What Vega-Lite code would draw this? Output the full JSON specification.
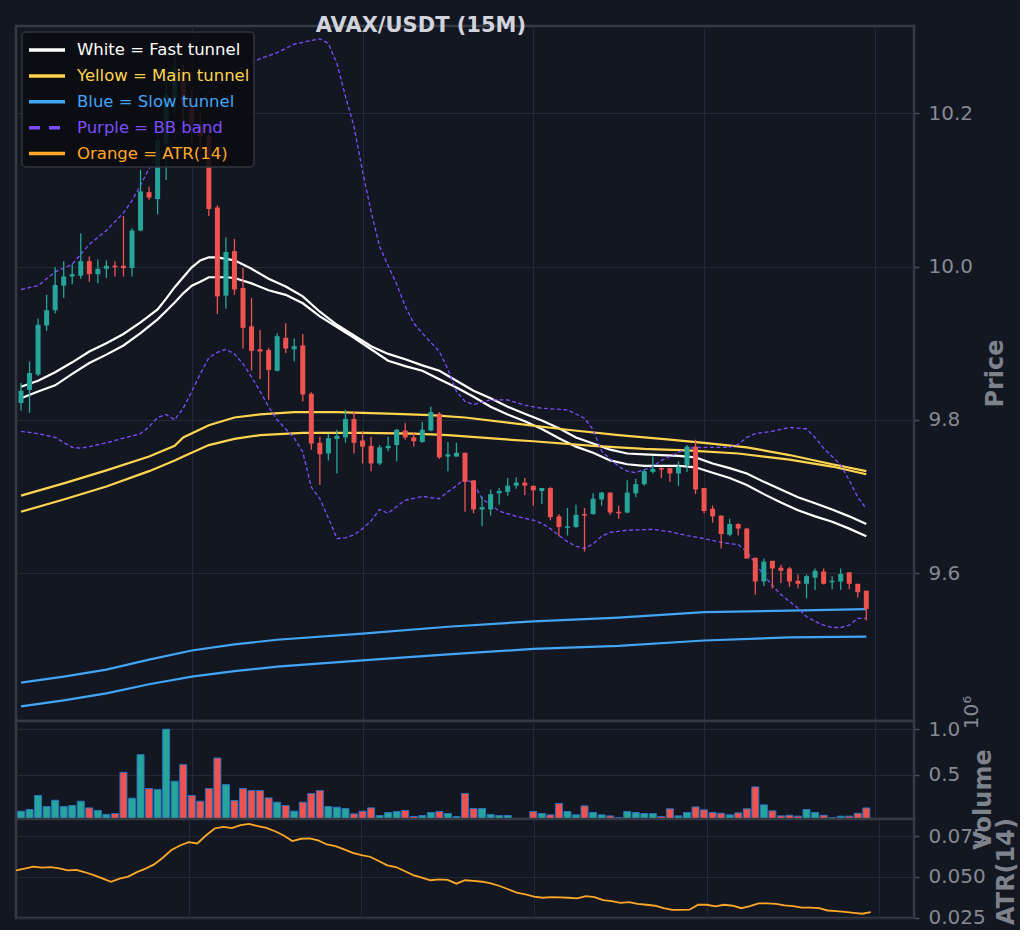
{
  "$schema": "https://vega.github.io/schema/vega-lite/v6.json",
  "background": "#131722",
  "padding": {"left": 14, "top": 14, "right": 0, "bottom": 0},
  "bounds": "flush",
  "title": {
    "text": "AVAX/USDT (15M)",
    "anchor": "start",
    "dx": 301,
    "offset": -11,
    "fontSize": 21,
    "fontWeight": "bold",
    "color": "#d1d4dc"
  },
  "spacing": 0,
  "datasets": {
    "candles": [
      {"i": 0, "open": 9.822, "high": 9.848, "low": 9.812, "close": 9.838, "volume": 105000, "atr": 0.0541},
      {"i": 1, "open": 9.839, "high": 9.876, "low": 9.809, "close": 9.861, "volume": 124000, "atr": 0.0551},
      {"i": 2, "open": 9.859, "high": 9.932, "low": 9.857, "close": 9.924, "volume": 276000, "atr": 0.0563},
      {"i": 3, "open": 9.923, "high": 9.963, "low": 9.916, "close": 9.943, "volume": 156000, "atr": 0.0557},
      {"i": 4, "open": 9.943, "high": 9.999, "low": 9.939, "close": 9.976, "volume": 225000, "atr": 0.056},
      {"i": 5, "open": 9.975, "high": 10.007, "low": 9.959, "close": 9.987, "volume": 156000, "atr": 0.0553},
      {"i": 6, "open": 9.987, "high": 10.003, "low": 9.977, "close": 9.99, "volume": 167000, "atr": 0.0541},
      {"i": 7, "open": 9.988, "high": 10.043, "low": 9.984, "close": 10.007, "volume": 214000, "atr": 0.0543},
      {"i": 8, "open": 10.007, "high": 10.013, "low": 9.98, "close": 9.99, "volume": 141000, "atr": 0.0529},
      {"i": 9, "open": 9.99, "high": 10.009, "low": 9.978, "close": 9.997, "volume": 113000, "atr": 0.0512},
      {"i": 10, "open": 9.997, "high": 10.008, "low": 9.985, "close": 10.001, "volume": 70000, "atr": 0.0492},
      {"i": 11, "open": 10.001, "high": 10.007, "low": 9.987, "close": 9.999, "volume": 80000, "atr": 0.047},
      {"i": 12, "open": 10.001, "high": 10.066, "low": 9.987, "close": 9.998, "volume": 529000, "atr": 0.049},
      {"i": 13, "open": 9.998, "high": 10.05, "low": 9.987, "close": 10.047, "volume": 247000, "atr": 0.0502},
      {"i": 14, "open": 10.047, "high": 10.126, "low": 10.046, "close": 10.098, "volume": 722000, "atr": 0.053},
      {"i": 15, "open": 10.097, "high": 10.104, "low": 10.087, "close": 10.09, "volume": 352000, "atr": 0.0551},
      {"i": 16, "open": 10.088, "high": 10.175, "low": 10.068, "close": 10.165, "volume": 341000, "atr": 0.0577},
      {"i": 17, "open": 10.16, "high": 10.245, "low": 10.113, "close": 10.225, "volume": 1000000, "atr": 0.0618},
      {"i": 18, "open": 10.22, "high": 10.28, "low": 10.2, "close": 10.258, "volume": 432000, "atr": 0.0665},
      {"i": 19, "open": 10.255, "high": 10.265, "low": 10.19, "close": 10.21, "volume": 613000, "atr": 0.0693},
      {"i": 20, "open": 10.21, "high": 10.23, "low": 10.16, "close": 10.185, "volume": 276000, "atr": 0.0713},
      {"i": 21, "open": 10.185, "high": 10.2, "low": 10.15, "close": 10.17, "volume": 214000, "atr": 0.0705},
      {"i": 22, "open": 10.17, "high": 10.18, "low": 10.066, "close": 10.075, "volume": 352000, "atr": 0.0754},
      {"i": 23, "open": 10.077, "high": 10.08, "low": 9.938, "close": 9.961, "volume": 685000, "atr": 0.0797},
      {"i": 24, "open": 9.962, "high": 10.038, "low": 9.945, "close": 10.019, "volume": 395000, "atr": 0.0807},
      {"i": 25, "open": 10.02, "high": 10.036, "low": 9.963, "close": 9.97, "volume": 221000, "atr": 0.0799},
      {"i": 26, "open": 9.972, "high": 9.998, "low": 9.893, "close": 9.92, "volume": 352000, "atr": 0.0817},
      {"i": 27, "open": 9.922, "high": 9.959, "low": 9.864, "close": 9.89, "volume": 330000, "atr": 0.0825},
      {"i": 28, "open": 9.892, "high": 9.917, "low": 9.853, "close": 9.889, "volume": 330000, "atr": 0.0811},
      {"i": 29, "open": 9.891, "high": 9.894, "low": 9.826, "close": 9.865, "volume": 250000, "atr": 0.0801},
      {"i": 30, "open": 9.864, "high": 9.913, "low": 9.863, "close": 9.909, "volume": 203000, "atr": 0.078},
      {"i": 31, "open": 9.907, "high": 9.926, "low": 9.887, "close": 9.893, "volume": 167000, "atr": 0.0754},
      {"i": 32, "open": 9.892, "high": 9.906, "low": 9.876, "close": 9.896, "volume": 105000, "atr": 0.072},
      {"i": 33, "open": 9.897, "high": 9.912, "low": 9.824, "close": 9.833, "volume": 203000, "atr": 0.0734},
      {"i": 34, "open": 9.834, "high": 9.836, "low": 9.761, "close": 9.769, "volume": 297000, "atr": 0.0736},
      {"i": 35, "open": 9.77, "high": 9.778, "low": 9.715, "close": 9.755, "volume": 330000, "atr": 0.0724},
      {"i": 36, "open": 9.756, "high": 9.782, "low": 9.747, "close": 9.776, "volume": 156000, "atr": 0.0699},
      {"i": 37, "open": 9.775, "high": 9.787, "low": 9.73, "close": 9.779, "volume": 149000, "atr": 0.0689},
      {"i": 38, "open": 9.777, "high": 9.813, "low": 9.77, "close": 9.801, "volume": 134000, "atr": 0.0669},
      {"i": 39, "open": 9.801, "high": 9.811, "low": 9.756, "close": 9.77, "volume": 76000, "atr": 0.0648},
      {"i": 40, "open": 9.773, "high": 9.785, "low": 9.743, "close": 9.765, "volume": 105000, "atr": 0.0634},
      {"i": 41, "open": 9.766, "high": 9.778, "low": 9.733, "close": 9.743, "volume": 141000, "atr": 0.0624},
      {"i": 42, "open": 9.743, "high": 9.767, "low": 9.741, "close": 9.764, "volume": 58000, "atr": 0.0598},
      {"i": 43, "open": 9.763, "high": 9.778, "low": 9.759, "close": 9.766, "volume": 91000, "atr": 0.0571},
      {"i": 44, "open": 9.767, "high": 9.788, "low": 9.746, "close": 9.787, "volume": 102000, "atr": 0.0561},
      {"i": 45, "open": 9.786, "high": 9.796, "low": 9.774, "close": 9.777, "volume": 113000, "atr": 0.0537},
      {"i": 46, "open": 9.777, "high": 9.784, "low": 9.765, "close": 9.772, "volume": 47000, "atr": 0.0512},
      {"i": 47, "open": 9.771, "high": 9.797, "low": 9.77, "close": 9.787, "volume": 58000, "atr": 0.0496},
      {"i": 48, "open": 9.786, "high": 9.817, "low": 9.785, "close": 9.81, "volume": 91000, "atr": 0.048},
      {"i": 49, "open": 9.808, "high": 9.81, "low": 9.749, "close": 9.751, "volume": 102000, "atr": 0.0486},
      {"i": 50, "open": 9.752, "high": 9.771, "low": 9.733, "close": 9.755, "volume": 80000, "atr": 0.0482},
      {"i": 51, "open": 9.752, "high": 9.77, "low": 9.752, "close": 9.757, "volume": 47000, "atr": 0.0459},
      {"i": 52, "open": 9.757, "high": 9.757, "low": 9.68, "close": 9.719, "volume": 297000, "atr": 0.048},
      {"i": 53, "open": 9.721, "high": 9.721, "low": 9.678, "close": 9.683, "volume": 134000, "atr": 0.0476},
      {"i": 54, "open": 9.683, "high": 9.7, "low": 9.661, "close": 9.686, "volume": 134000, "atr": 0.0471},
      {"i": 55, "open": 9.683, "high": 9.709, "low": 9.675, "close": 9.703, "volume": 70000, "atr": 0.0461},
      {"i": 56, "open": 9.704, "high": 9.711, "low": 9.689, "close": 9.707, "volume": 58000, "atr": 0.0445},
      {"i": 57, "open": 9.706, "high": 9.724, "low": 9.701, "close": 9.714, "volume": 58000, "atr": 0.0425},
      {"i": 58, "open": 9.714, "high": 9.725, "low": 9.71, "close": 9.718, "volume": 20000, "atr": 0.0404},
      {"i": 59, "open": 9.718, "high": 9.724, "low": 9.702, "close": 9.714, "volume": 15000, "atr": 0.0393},
      {"i": 60, "open": 9.714, "high": 9.714, "low": 9.688, "close": 9.708, "volume": 102000, "atr": 0.038},
      {"i": 61, "open": 9.707, "high": 9.711, "low": 9.69, "close": 9.711, "volume": 80000, "atr": 0.0373},
      {"i": 62, "open": 9.711, "high": 9.712, "low": 9.669, "close": 9.673, "volume": 65000, "atr": 0.0377},
      {"i": 63, "open": 9.674, "high": 9.677, "low": 9.648, "close": 9.66, "volume": 189000, "atr": 0.0375},
      {"i": 64, "open": 9.659, "high": 9.685, "low": 9.649, "close": 9.661, "volume": 102000, "atr": 0.0373},
      {"i": 65, "open": 9.66, "high": 9.689, "low": 9.659, "close": 9.676, "volume": 65000, "atr": 0.0369},
      {"i": 66, "open": 9.677, "high": 9.685, "low": 9.628, "close": 9.675, "volume": 163000, "atr": 0.0383},
      {"i": 67, "open": 9.677, "high": 9.704, "low": 9.676, "close": 9.697, "volume": 91000, "atr": 0.0377},
      {"i": 68, "open": 9.696, "high": 9.706, "low": 9.688, "close": 9.705, "volume": 65000, "atr": 0.0358},
      {"i": 69, "open": 9.705, "high": 9.705, "low": 9.676, "close": 9.679, "volume": 54000, "atr": 0.0352},
      {"i": 70, "open": 9.68, "high": 9.688, "low": 9.671, "close": 9.678, "volume": 36000, "atr": 0.0342},
      {"i": 71, "open": 9.679, "high": 9.721, "low": 9.678, "close": 9.705, "volume": 102000, "atr": 0.0346},
      {"i": 72, "open": 9.704, "high": 9.723, "low": 9.699, "close": 9.716, "volume": 91000, "atr": 0.0336},
      {"i": 73, "open": 9.716, "high": 9.735, "low": 9.714, "close": 9.733, "volume": 80000, "atr": 0.033},
      {"i": 74, "open": 9.732, "high": 9.752, "low": 9.73, "close": 9.736, "volume": 80000, "atr": 0.0324},
      {"i": 75, "open": 9.737, "high": 9.738, "low": 9.724, "close": 9.735, "volume": 47000, "atr": 0.0309},
      {"i": 76, "open": 9.737, "high": 9.737, "low": 9.719, "close": 9.73, "volume": 131000, "atr": 0.0299},
      {"i": 77, "open": 9.73, "high": 9.746, "low": 9.714, "close": 9.739, "volume": 54000, "atr": 0.0299},
      {"i": 78, "open": 9.741, "high": 9.767, "low": 9.732, "close": 9.765, "volume": 91000, "atr": 0.03},
      {"i": 79, "open": 9.765, "high": 9.774, "low": 9.703, "close": 9.709, "volume": 152000, "atr": 0.033},
      {"i": 80, "open": 9.711, "high": 9.711, "low": 9.678, "close": 9.681, "volume": 120000, "atr": 0.033},
      {"i": 81, "open": 9.684, "high": 9.688, "low": 9.666, "close": 9.674, "volume": 91000, "atr": 0.032},
      {"i": 82, "open": 9.675, "high": 9.675, "low": 9.632, "close": 9.651, "volume": 83000, "atr": 0.033},
      {"i": 83, "open": 9.65, "high": 9.671, "low": 9.648, "close": 9.664, "volume": 65000, "atr": 0.0324},
      {"i": 84, "open": 9.664, "high": 9.665, "low": 9.649, "close": 9.658, "volume": 87000, "atr": 0.0309},
      {"i": 85, "open": 9.658, "high": 9.659, "low": 9.619, "close": 9.619, "volume": 131000, "atr": 0.0322},
      {"i": 86, "open": 9.62, "high": 9.62, "low": 9.572, "close": 9.589, "volume": 370000, "atr": 0.0338},
      {"i": 87, "open": 9.589, "high": 9.619, "low": 9.583, "close": 9.615, "volume": 174000, "atr": 0.0338},
      {"i": 88, "open": 9.616, "high": 9.616, "low": 9.58, "close": 9.606, "volume": 109000, "atr": 0.0336},
      {"i": 89, "open": 9.607, "high": 9.611, "low": 9.587, "close": 9.603, "volume": 54000, "atr": 0.0326},
      {"i": 90, "open": 9.606, "high": 9.608, "low": 9.582, "close": 9.589, "volume": 61000, "atr": 0.0322},
      {"i": 91, "open": 9.59, "high": 9.598, "low": 9.58, "close": 9.586, "volume": 51000, "atr": 0.0313},
      {"i": 92, "open": 9.586, "high": 9.598, "low": 9.567, "close": 9.596, "volume": 124000, "atr": 0.0313},
      {"i": 93, "open": 9.594, "high": 9.606, "low": 9.578, "close": 9.603, "volume": 91000, "atr": 0.0309},
      {"i": 94, "open": 9.602, "high": 9.606, "low": 9.585, "close": 9.586, "volume": 61000, "atr": 0.0295},
      {"i": 95, "open": 9.588, "high": 9.596, "low": 9.579, "close": 9.59, "volume": 36000, "atr": 0.0291},
      {"i": 96, "open": 9.589, "high": 9.606, "low": 9.578, "close": 9.599, "volume": 51000, "atr": 0.0287},
      {"i": 97, "open": 9.601, "high": 9.601, "low": 9.579, "close": 9.586, "volume": 51000, "atr": 0.0281},
      {"i": 98, "open": 9.586, "high": 9.586, "low": 9.568, "close": 9.575, "volume": 83000, "atr": 0.0275},
      {"i": 99, "open": 9.577, "high": 9.577, "low": 9.538, "close": 9.553, "volume": 141000, "atr": 0.0285}
    ],
    "lines": [
      {"i": 0, "series": "White = Fast tunnel", "band": "upper", "price": 9.843},
      {"i": 2, "series": "White = Fast tunnel", "band": "upper", "price": 9.851},
      {"i": 4, "series": "White = Fast tunnel", "band": "upper", "price": 9.862},
      {"i": 6, "series": "White = Fast tunnel", "band": "upper", "price": 9.875},
      {"i": 8, "series": "White = Fast tunnel", "band": "upper", "price": 9.889},
      {"i": 10, "series": "White = Fast tunnel", "band": "upper", "price": 9.9},
      {"i": 12, "series": "White = Fast tunnel", "band": "upper", "price": 9.912},
      {"i": 14, "series": "White = Fast tunnel", "band": "upper", "price": 9.927},
      {"i": 16, "series": "White = Fast tunnel", "band": "upper", "price": 9.944},
      {"i": 17, "series": "White = Fast tunnel", "band": "upper", "price": 9.958},
      {"i": 18, "series": "White = Fast tunnel", "band": "upper", "price": 9.973},
      {"i": 19, "series": "White = Fast tunnel", "band": "upper", "price": 9.986},
      {"i": 20, "series": "White = Fast tunnel", "band": "upper", "price": 9.999},
      {"i": 21, "series": "White = Fast tunnel", "band": "upper", "price": 10.008},
      {"i": 22, "series": "White = Fast tunnel", "band": "upper", "price": 10.012},
      {"i": 23, "series": "White = Fast tunnel", "band": "upper", "price": 10.012},
      {"i": 25, "series": "White = Fast tunnel", "band": "upper", "price": 10.008},
      {"i": 27, "series": "White = Fast tunnel", "band": "upper", "price": 9.997},
      {"i": 29, "series": "White = Fast tunnel", "band": "upper", "price": 9.984},
      {"i": 31, "series": "White = Fast tunnel", "band": "upper", "price": 9.974},
      {"i": 33, "series": "White = Fast tunnel", "band": "upper", "price": 9.961},
      {"i": 35, "series": "White = Fast tunnel", "band": "upper", "price": 9.941},
      {"i": 37, "series": "White = Fast tunnel", "band": "upper", "price": 9.924},
      {"i": 39, "series": "White = Fast tunnel", "band": "upper", "price": 9.91},
      {"i": 41, "series": "White = Fast tunnel", "band": "upper", "price": 9.896},
      {"i": 43, "series": "White = Fast tunnel", "band": "upper", "price": 9.886},
      {"i": 45, "series": "White = Fast tunnel", "band": "upper", "price": 9.879},
      {"i": 47, "series": "White = Fast tunnel", "band": "upper", "price": 9.871},
      {"i": 49, "series": "White = Fast tunnel", "band": "upper", "price": 9.864},
      {"i": 51, "series": "White = Fast tunnel", "band": "upper", "price": 9.851},
      {"i": 53, "series": "White = Fast tunnel", "band": "upper", "price": 9.838},
      {"i": 55, "series": "White = Fast tunnel", "band": "upper", "price": 9.828},
      {"i": 57, "series": "White = Fast tunnel", "band": "upper", "price": 9.817},
      {"i": 59, "series": "White = Fast tunnel", "band": "upper", "price": 9.808},
      {"i": 61, "series": "White = Fast tunnel", "band": "upper", "price": 9.799},
      {"i": 63, "series": "White = Fast tunnel", "band": "upper", "price": 9.789},
      {"i": 65, "series": "White = Fast tunnel", "band": "upper", "price": 9.777},
      {"i": 67, "series": "White = Fast tunnel", "band": "upper", "price": 9.769},
      {"i": 69, "series": "White = Fast tunnel", "band": "upper", "price": 9.761},
      {"i": 71, "series": "White = Fast tunnel", "band": "upper", "price": 9.756},
      {"i": 73, "series": "White = Fast tunnel", "band": "upper", "price": 9.755},
      {"i": 75, "series": "White = Fast tunnel", "band": "upper", "price": 9.754},
      {"i": 77, "series": "White = Fast tunnel", "band": "upper", "price": 9.753},
      {"i": 79, "series": "White = Fast tunnel", "band": "upper", "price": 9.751},
      {"i": 81, "series": "White = Fast tunnel", "band": "upper", "price": 9.743},
      {"i": 83, "series": "White = Fast tunnel", "band": "upper", "price": 9.737},
      {"i": 85, "series": "White = Fast tunnel", "band": "upper", "price": 9.73},
      {"i": 87, "series": "White = Fast tunnel", "band": "upper", "price": 9.719},
      {"i": 89, "series": "White = Fast tunnel", "band": "upper", "price": 9.709},
      {"i": 91, "series": "White = Fast tunnel", "band": "upper", "price": 9.699},
      {"i": 93, "series": "White = Fast tunnel", "band": "upper", "price": 9.691},
      {"i": 95, "series": "White = Fast tunnel", "band": "upper", "price": 9.683},
      {"i": 97, "series": "White = Fast tunnel", "band": "upper", "price": 9.674},
      {"i": 99, "series": "White = Fast tunnel", "band": "upper", "price": 9.664},
      {"i": 0, "series": "White = Fast tunnel", "band": "lower", "price": 9.828},
      {"i": 2, "series": "White = Fast tunnel", "band": "lower", "price": 9.837},
      {"i": 4, "series": "White = Fast tunnel", "band": "lower", "price": 9.845},
      {"i": 6, "series": "White = Fast tunnel", "band": "lower", "price": 9.86},
      {"i": 8, "series": "White = Fast tunnel", "band": "lower", "price": 9.874},
      {"i": 10, "series": "White = Fast tunnel", "band": "lower", "price": 9.885},
      {"i": 12, "series": "White = Fast tunnel", "band": "lower", "price": 9.897},
      {"i": 14, "series": "White = Fast tunnel", "band": "lower", "price": 9.913},
      {"i": 16, "series": "White = Fast tunnel", "band": "lower", "price": 9.931},
      {"i": 17, "series": "White = Fast tunnel", "band": "lower", "price": 9.942},
      {"i": 18, "series": "White = Fast tunnel", "band": "lower", "price": 9.953},
      {"i": 19, "series": "White = Fast tunnel", "band": "lower", "price": 9.965},
      {"i": 20, "series": "White = Fast tunnel", "band": "lower", "price": 9.975},
      {"i": 21, "series": "White = Fast tunnel", "band": "lower", "price": 9.98},
      {"i": 22, "series": "White = Fast tunnel", "band": "lower", "price": 9.986},
      {"i": 24, "series": "White = Fast tunnel", "band": "lower", "price": 9.986},
      {"i": 25, "series": "White = Fast tunnel", "band": "lower", "price": 9.985},
      {"i": 27, "series": "White = Fast tunnel", "band": "lower", "price": 9.978},
      {"i": 29, "series": "White = Fast tunnel", "band": "lower", "price": 9.969},
      {"i": 31, "series": "White = Fast tunnel", "band": "lower", "price": 9.963},
      {"i": 33, "series": "White = Fast tunnel", "band": "lower", "price": 9.952},
      {"i": 35, "series": "White = Fast tunnel", "band": "lower", "price": 9.935},
      {"i": 37, "series": "White = Fast tunnel", "band": "lower", "price": 9.921},
      {"i": 39, "series": "White = Fast tunnel", "band": "lower", "price": 9.907},
      {"i": 41, "series": "White = Fast tunnel", "band": "lower", "price": 9.892},
      {"i": 43, "series": "White = Fast tunnel", "band": "lower", "price": 9.877},
      {"i": 45, "series": "White = Fast tunnel", "band": "lower", "price": 9.87},
      {"i": 47, "series": "White = Fast tunnel", "band": "lower", "price": 9.864},
      {"i": 49, "series": "White = Fast tunnel", "band": "lower", "price": 9.853},
      {"i": 51, "series": "White = Fast tunnel", "band": "lower", "price": 9.842},
      {"i": 53, "series": "White = Fast tunnel", "band": "lower", "price": 9.83},
      {"i": 55, "series": "White = Fast tunnel", "band": "lower", "price": 9.817},
      {"i": 57, "series": "White = Fast tunnel", "band": "lower", "price": 9.807},
      {"i": 59, "series": "White = Fast tunnel", "band": "lower", "price": 9.798},
      {"i": 61, "series": "White = Fast tunnel", "band": "lower", "price": 9.788},
      {"i": 63, "series": "White = Fast tunnel", "band": "lower", "price": 9.776},
      {"i": 65, "series": "White = Fast tunnel", "band": "lower", "price": 9.765},
      {"i": 67, "series": "White = Fast tunnel", "band": "lower", "price": 9.757},
      {"i": 69, "series": "White = Fast tunnel", "band": "lower", "price": 9.747},
      {"i": 71, "series": "White = Fast tunnel", "band": "lower", "price": 9.742},
      {"i": 73, "series": "White = Fast tunnel", "band": "lower", "price": 9.74},
      {"i": 75, "series": "White = Fast tunnel", "band": "lower", "price": 9.74},
      {"i": 77, "series": "White = Fast tunnel", "band": "lower", "price": 9.74},
      {"i": 79, "series": "White = Fast tunnel", "band": "lower", "price": 9.738},
      {"i": 81, "series": "White = Fast tunnel", "band": "lower", "price": 9.731},
      {"i": 83, "series": "White = Fast tunnel", "band": "lower", "price": 9.724},
      {"i": 85, "series": "White = Fast tunnel", "band": "lower", "price": 9.715},
      {"i": 87, "series": "White = Fast tunnel", "band": "lower", "price": 9.703},
      {"i": 89, "series": "White = Fast tunnel", "band": "lower", "price": 9.692},
      {"i": 91, "series": "White = Fast tunnel", "band": "lower", "price": 9.682},
      {"i": 93, "series": "White = Fast tunnel", "band": "lower", "price": 9.674},
      {"i": 95, "series": "White = Fast tunnel", "band": "lower", "price": 9.667},
      {"i": 97, "series": "White = Fast tunnel", "band": "lower", "price": 9.658},
      {"i": 99, "series": "White = Fast tunnel", "band": "lower", "price": 9.648},
      {"i": 0, "series": "Yellow = Main tunnel", "band": "upper", "price": 9.701},
      {"i": 5, "series": "Yellow = Main tunnel", "band": "upper", "price": 9.717},
      {"i": 10, "series": "Yellow = Main tunnel", "band": "upper", "price": 9.734},
      {"i": 15, "series": "Yellow = Main tunnel", "band": "upper", "price": 9.752},
      {"i": 18, "series": "Yellow = Main tunnel", "band": "upper", "price": 9.766},
      {"i": 19, "series": "Yellow = Main tunnel", "band": "upper", "price": 9.777},
      {"i": 22, "series": "Yellow = Main tunnel", "band": "upper", "price": 9.793},
      {"i": 25, "series": "Yellow = Main tunnel", "band": "upper", "price": 9.803},
      {"i": 28, "series": "Yellow = Main tunnel", "band": "upper", "price": 9.807},
      {"i": 32, "series": "Yellow = Main tunnel", "band": "upper", "price": 9.81},
      {"i": 37, "series": "Yellow = Main tunnel", "band": "upper", "price": 9.81},
      {"i": 43, "series": "Yellow = Main tunnel", "band": "upper", "price": 9.808},
      {"i": 48, "series": "Yellow = Main tunnel", "band": "upper", "price": 9.806},
      {"i": 52, "series": "Yellow = Main tunnel", "band": "upper", "price": 9.803},
      {"i": 58, "series": "Yellow = Main tunnel", "band": "upper", "price": 9.795},
      {"i": 64, "series": "Yellow = Main tunnel", "band": "upper", "price": 9.787},
      {"i": 70, "series": "Yellow = Main tunnel", "band": "upper", "price": 9.78},
      {"i": 76, "series": "Yellow = Main tunnel", "band": "upper", "price": 9.774},
      {"i": 80, "series": "Yellow = Main tunnel", "band": "upper", "price": 9.77},
      {"i": 85, "series": "Yellow = Main tunnel", "band": "upper", "price": 9.764},
      {"i": 90, "series": "Yellow = Main tunnel", "band": "upper", "price": 9.754},
      {"i": 95, "series": "Yellow = Main tunnel", "band": "upper", "price": 9.742},
      {"i": 99, "series": "Yellow = Main tunnel", "band": "upper", "price": 9.733},
      {"i": 0, "series": "Yellow = Main tunnel", "band": "lower", "price": 9.68},
      {"i": 5, "series": "Yellow = Main tunnel", "band": "lower", "price": 9.696},
      {"i": 10, "series": "Yellow = Main tunnel", "band": "lower", "price": 9.713},
      {"i": 15, "series": "Yellow = Main tunnel", "band": "lower", "price": 9.733},
      {"i": 18, "series": "Yellow = Main tunnel", "band": "lower", "price": 9.747},
      {"i": 19, "series": "Yellow = Main tunnel", "band": "lower", "price": 9.752},
      {"i": 22, "series": "Yellow = Main tunnel", "band": "lower", "price": 9.767},
      {"i": 25, "series": "Yellow = Main tunnel", "band": "lower", "price": 9.775},
      {"i": 28, "series": "Yellow = Main tunnel", "band": "lower", "price": 9.78},
      {"i": 33, "series": "Yellow = Main tunnel", "band": "lower", "price": 9.783},
      {"i": 40, "series": "Yellow = Main tunnel", "band": "lower", "price": 9.783},
      {"i": 46, "series": "Yellow = Main tunnel", "band": "lower", "price": 9.782},
      {"i": 50, "series": "Yellow = Main tunnel", "band": "lower", "price": 9.78},
      {"i": 56, "series": "Yellow = Main tunnel", "band": "lower", "price": 9.775},
      {"i": 60, "series": "Yellow = Main tunnel", "band": "lower", "price": 9.772},
      {"i": 67, "series": "Yellow = Main tunnel", "band": "lower", "price": 9.766},
      {"i": 73, "series": "Yellow = Main tunnel", "band": "lower", "price": 9.762},
      {"i": 78, "series": "Yellow = Main tunnel", "band": "lower", "price": 9.76},
      {"i": 84, "series": "Yellow = Main tunnel", "band": "lower", "price": 9.756},
      {"i": 90, "series": "Yellow = Main tunnel", "band": "lower", "price": 9.748},
      {"i": 95, "series": "Yellow = Main tunnel", "band": "lower", "price": 9.739},
      {"i": 99, "series": "Yellow = Main tunnel", "band": "lower", "price": 9.729},
      {"i": 0, "series": "Blue = Slow tunnel", "band": "upper", "price": 9.457},
      {"i": 5, "series": "Blue = Slow tunnel", "band": "upper", "price": 9.465},
      {"i": 10, "series": "Blue = Slow tunnel", "band": "upper", "price": 9.474},
      {"i": 15, "series": "Blue = Slow tunnel", "band": "upper", "price": 9.487},
      {"i": 20, "series": "Blue = Slow tunnel", "band": "upper", "price": 9.499},
      {"i": 25, "series": "Blue = Slow tunnel", "band": "upper", "price": 9.507},
      {"i": 30, "series": "Blue = Slow tunnel", "band": "upper", "price": 9.513},
      {"i": 40, "series": "Blue = Slow tunnel", "band": "upper", "price": 9.521},
      {"i": 50, "series": "Blue = Slow tunnel", "band": "upper", "price": 9.53},
      {"i": 60, "series": "Blue = Slow tunnel", "band": "upper", "price": 9.537},
      {"i": 70, "series": "Blue = Slow tunnel", "band": "upper", "price": 9.542},
      {"i": 80, "series": "Blue = Slow tunnel", "band": "upper", "price": 9.549},
      {"i": 90, "series": "Blue = Slow tunnel", "band": "upper", "price": 9.551},
      {"i": 99, "series": "Blue = Slow tunnel", "band": "upper", "price": 9.553},
      {"i": 0, "series": "Blue = Slow tunnel", "band": "lower", "price": 9.426},
      {"i": 5, "series": "Blue = Slow tunnel", "band": "lower", "price": 9.434},
      {"i": 10, "series": "Blue = Slow tunnel", "band": "lower", "price": 9.443},
      {"i": 15, "series": "Blue = Slow tunnel", "band": "lower", "price": 9.455},
      {"i": 20, "series": "Blue = Slow tunnel", "band": "lower", "price": 9.465},
      {"i": 25, "series": "Blue = Slow tunnel", "band": "lower", "price": 9.472},
      {"i": 30, "series": "Blue = Slow tunnel", "band": "lower", "price": 9.478},
      {"i": 40, "series": "Blue = Slow tunnel", "band": "lower", "price": 9.486},
      {"i": 50, "series": "Blue = Slow tunnel", "band": "lower", "price": 9.494},
      {"i": 60, "series": "Blue = Slow tunnel", "band": "lower", "price": 9.501},
      {"i": 70, "series": "Blue = Slow tunnel", "band": "lower", "price": 9.505},
      {"i": 80, "series": "Blue = Slow tunnel", "band": "lower", "price": 9.512},
      {"i": 90, "series": "Blue = Slow tunnel", "band": "lower", "price": 9.516},
      {"i": 99, "series": "Blue = Slow tunnel", "band": "lower", "price": 9.517},
      {"i": 0, "series": "Purple = BB band", "band": "upper", "price": 9.97},
      {"i": 2, "series": "Purple = BB band", "band": "upper", "price": 9.975},
      {"i": 4, "series": "Purple = BB band", "band": "upper", "price": 9.993},
      {"i": 6, "series": "Purple = BB band", "band": "upper", "price": 10.003},
      {"i": 8, "series": "Purple = BB band", "band": "upper", "price": 10.029},
      {"i": 10, "series": "Purple = BB band", "band": "upper", "price": 10.047},
      {"i": 12, "series": "Purple = BB band", "band": "upper", "price": 10.07},
      {"i": 13, "series": "Purple = BB band", "band": "upper", "price": 10.086},
      {"i": 14, "series": "Purple = BB band", "band": "upper", "price": 10.106},
      {"i": 15, "series": "Purple = BB band", "band": "upper", "price": 10.128},
      {"i": 16, "series": "Purple = BB band", "band": "upper", "price": 10.147},
      {"i": 17, "series": "Purple = BB band", "band": "upper", "price": 10.155},
      {"i": 18, "series": "Purple = BB band", "band": "upper", "price": 10.168},
      {"i": 20, "series": "Purple = BB band", "band": "upper", "price": 10.2},
      {"i": 22, "series": "Purple = BB band", "band": "upper", "price": 10.226},
      {"i": 24, "series": "Purple = BB band", "band": "upper", "price": 10.247},
      {"i": 26, "series": "Purple = BB band", "band": "upper", "price": 10.261},
      {"i": 28, "series": "Purple = BB band", "band": "upper", "price": 10.271},
      {"i": 30, "series": "Purple = BB band", "band": "upper", "price": 10.279},
      {"i": 32, "series": "Purple = BB band", "band": "upper", "price": 10.29},
      {"i": 34, "series": "Purple = BB band", "band": "upper", "price": 10.295},
      {"i": 35, "series": "Purple = BB band", "band": "upper", "price": 10.297},
      {"i": 36, "series": "Purple = BB band", "band": "upper", "price": 10.291},
      {"i": 37, "series": "Purple = BB band", "band": "upper", "price": 10.265},
      {"i": 38, "series": "Purple = BB band", "band": "upper", "price": 10.222},
      {"i": 39, "series": "Purple = BB band", "band": "upper", "price": 10.183},
      {"i": 40, "series": "Purple = BB band", "band": "upper", "price": 10.124},
      {"i": 41, "series": "Purple = BB band", "band": "upper", "price": 10.072},
      {"i": 42, "series": "Purple = BB band", "band": "upper", "price": 10.026},
      {"i": 43, "series": "Purple = BB band", "band": "upper", "price": 10.001},
      {"i": 44, "series": "Purple = BB band", "band": "upper", "price": 9.977},
      {"i": 45, "series": "Purple = BB band", "band": "upper", "price": 9.948},
      {"i": 46, "series": "Purple = BB band", "band": "upper", "price": 9.926},
      {"i": 47, "series": "Purple = BB band", "band": "upper", "price": 9.913},
      {"i": 48, "series": "Purple = BB band", "band": "upper", "price": 9.901},
      {"i": 49, "series": "Purple = BB band", "band": "upper", "price": 9.889},
      {"i": 50, "series": "Purple = BB band", "band": "upper", "price": 9.866},
      {"i": 51, "series": "Purple = BB band", "band": "upper", "price": 9.837},
      {"i": 52, "series": "Purple = BB band", "band": "upper", "price": 9.824},
      {"i": 53, "series": "Purple = BB band", "band": "upper", "price": 9.82},
      {"i": 55, "series": "Purple = BB band", "band": "upper", "price": 9.826},
      {"i": 57, "series": "Purple = BB band", "band": "upper", "price": 9.826},
      {"i": 59, "series": "Purple = BB band", "band": "upper", "price": 9.819},
      {"i": 61, "series": "Purple = BB band", "band": "upper", "price": 9.815},
      {"i": 64, "series": "Purple = BB band", "band": "upper", "price": 9.813},
      {"i": 66, "series": "Purple = BB band", "band": "upper", "price": 9.802},
      {"i": 67, "series": "Purple = BB band", "band": "upper", "price": 9.787},
      {"i": 68, "series": "Purple = BB band", "band": "upper", "price": 9.759},
      {"i": 70, "series": "Purple = BB band", "band": "upper", "price": 9.739},
      {"i": 71, "series": "Purple = BB band", "band": "upper", "price": 9.733},
      {"i": 72, "series": "Purple = BB band", "band": "upper", "price": 9.731},
      {"i": 74, "series": "Purple = BB band", "band": "upper", "price": 9.739},
      {"i": 75, "series": "Purple = BB band", "band": "upper", "price": 9.747},
      {"i": 76, "series": "Purple = BB band", "band": "upper", "price": 9.752},
      {"i": 78, "series": "Purple = BB band", "band": "upper", "price": 9.763},
      {"i": 80, "series": "Purple = BB band", "band": "upper", "price": 9.764},
      {"i": 83, "series": "Purple = BB band", "band": "upper", "price": 9.764},
      {"i": 84, "series": "Purple = BB band", "band": "upper", "price": 9.768},
      {"i": 85, "series": "Purple = BB band", "band": "upper", "price": 9.777},
      {"i": 86, "series": "Purple = BB band", "band": "upper", "price": 9.782},
      {"i": 88, "series": "Purple = BB band", "band": "upper", "price": 9.785},
      {"i": 90, "series": "Purple = BB band", "band": "upper", "price": 9.79},
      {"i": 92, "series": "Purple = BB band", "band": "upper", "price": 9.788},
      {"i": 93, "series": "Purple = BB band", "band": "upper", "price": 9.777},
      {"i": 94, "series": "Purple = BB band", "band": "upper", "price": 9.763},
      {"i": 96, "series": "Purple = BB band", "band": "upper", "price": 9.741},
      {"i": 97, "series": "Purple = BB band", "band": "upper", "price": 9.721},
      {"i": 98, "series": "Purple = BB band", "band": "upper", "price": 9.699},
      {"i": 99, "series": "Purple = BB band", "band": "upper", "price": 9.684},
      {"i": 0, "series": "Purple = BB band", "band": "lower", "price": 9.785},
      {"i": 2, "series": "Purple = BB band", "band": "lower", "price": 9.782},
      {"i": 4, "series": "Purple = BB band", "band": "lower", "price": 9.777},
      {"i": 6, "series": "Purple = BB band", "band": "lower", "price": 9.764},
      {"i": 7, "series": "Purple = BB band", "band": "lower", "price": 9.763},
      {"i": 8, "series": "Purple = BB band", "band": "lower", "price": 9.765},
      {"i": 10, "series": "Purple = BB band", "band": "lower", "price": 9.77},
      {"i": 12, "series": "Purple = BB band", "band": "lower", "price": 9.776},
      {"i": 14, "series": "Purple = BB band", "band": "lower", "price": 9.782},
      {"i": 15, "series": "Purple = BB band", "band": "lower", "price": 9.791},
      {"i": 16, "series": "Purple = BB band", "band": "lower", "price": 9.803},
      {"i": 17, "series": "Purple = BB band", "band": "lower", "price": 9.807},
      {"i": 18, "series": "Purple = BB band", "band": "lower", "price": 9.8},
      {"i": 19, "series": "Purple = BB band", "band": "lower", "price": 9.815},
      {"i": 20, "series": "Purple = BB band", "band": "lower", "price": 9.837},
      {"i": 21, "series": "Purple = BB band", "band": "lower", "price": 9.86},
      {"i": 22, "series": "Purple = BB band", "band": "lower", "price": 9.881},
      {"i": 23, "series": "Purple = BB band", "band": "lower", "price": 9.888},
      {"i": 24, "series": "Purple = BB band", "band": "lower", "price": 9.892},
      {"i": 25, "series": "Purple = BB band", "band": "lower", "price": 9.886},
      {"i": 26, "series": "Purple = BB band", "band": "lower", "price": 9.873},
      {"i": 27, "series": "Purple = BB band", "band": "lower", "price": 9.856},
      {"i": 28, "series": "Purple = BB band", "band": "lower", "price": 9.837},
      {"i": 29, "series": "Purple = BB band", "band": "lower", "price": 9.817},
      {"i": 30, "series": "Purple = BB band", "band": "lower", "price": 9.8},
      {"i": 31, "series": "Purple = BB band", "band": "lower", "price": 9.788},
      {"i": 32, "series": "Purple = BB band", "band": "lower", "price": 9.776},
      {"i": 33, "series": "Purple = BB band", "band": "lower", "price": 9.758},
      {"i": 34, "series": "Purple = BB band", "band": "lower", "price": 9.712},
      {"i": 35, "series": "Purple = BB band", "band": "lower", "price": 9.697},
      {"i": 36, "series": "Purple = BB band", "band": "lower", "price": 9.672},
      {"i": 37, "series": "Purple = BB band", "band": "lower", "price": 9.645},
      {"i": 38, "series": "Purple = BB band", "band": "lower", "price": 9.646},
      {"i": 39, "series": "Purple = BB band", "band": "lower", "price": 9.65},
      {"i": 40, "series": "Purple = BB band", "band": "lower", "price": 9.658},
      {"i": 41, "series": "Purple = BB band", "band": "lower", "price": 9.668},
      {"i": 42, "series": "Purple = BB band", "band": "lower", "price": 9.683},
      {"i": 43, "series": "Purple = BB band", "band": "lower", "price": 9.678},
      {"i": 44, "series": "Purple = BB band", "band": "lower", "price": 9.687},
      {"i": 45, "series": "Purple = BB band", "band": "lower", "price": 9.695},
      {"i": 47, "series": "Purple = BB band", "band": "lower", "price": 9.7},
      {"i": 49, "series": "Purple = BB band", "band": "lower", "price": 9.697},
      {"i": 50, "series": "Purple = BB band", "band": "lower", "price": 9.706},
      {"i": 51, "series": "Purple = BB band", "band": "lower", "price": 9.714},
      {"i": 52, "series": "Purple = BB band", "band": "lower", "price": 9.723},
      {"i": 53, "series": "Purple = BB band", "band": "lower", "price": 9.717},
      {"i": 54, "series": "Purple = BB band", "band": "lower", "price": 9.697},
      {"i": 56, "series": "Purple = BB band", "band": "lower", "price": 9.681},
      {"i": 58, "series": "Purple = BB band", "band": "lower", "price": 9.674},
      {"i": 60, "series": "Purple = BB band", "band": "lower", "price": 9.669},
      {"i": 61, "series": "Purple = BB band", "band": "lower", "price": 9.665},
      {"i": 62, "series": "Purple = BB band", "band": "lower", "price": 9.658},
      {"i": 63, "series": "Purple = BB band", "band": "lower", "price": 9.649},
      {"i": 64, "series": "Purple = BB band", "band": "lower", "price": 9.641},
      {"i": 65, "series": "Purple = BB band", "band": "lower", "price": 9.635},
      {"i": 66, "series": "Purple = BB band", "band": "lower", "price": 9.632},
      {"i": 67, "series": "Purple = BB band", "band": "lower", "price": 9.638},
      {"i": 68, "series": "Purple = BB band", "band": "lower", "price": 9.648},
      {"i": 69, "series": "Purple = BB band", "band": "lower", "price": 9.653},
      {"i": 71, "series": "Purple = BB band", "band": "lower", "price": 9.656},
      {"i": 74, "series": "Purple = BB band", "band": "lower", "price": 9.657},
      {"i": 76, "series": "Purple = BB band", "band": "lower", "price": 9.654},
      {"i": 78, "series": "Purple = BB band", "band": "lower", "price": 9.649},
      {"i": 80, "series": "Purple = BB band", "band": "lower", "price": 9.645},
      {"i": 82, "series": "Purple = BB band", "band": "lower", "price": 9.64},
      {"i": 84, "series": "Purple = BB band", "band": "lower", "price": 9.637},
      {"i": 85, "series": "Purple = BB band", "band": "lower", "price": 9.628},
      {"i": 86, "series": "Purple = BB band", "band": "lower", "price": 9.613},
      {"i": 87, "series": "Purple = BB band", "band": "lower", "price": 9.597},
      {"i": 88, "series": "Purple = BB band", "band": "lower", "price": 9.584},
      {"i": 89, "series": "Purple = BB band", "band": "lower", "price": 9.572},
      {"i": 90, "series": "Purple = BB band", "band": "lower", "price": 9.563},
      {"i": 91, "series": "Purple = BB band", "band": "lower", "price": 9.554},
      {"i": 92, "series": "Purple = BB band", "band": "lower", "price": 9.543},
      {"i": 93, "series": "Purple = BB band", "band": "lower", "price": 9.537},
      {"i": 94, "series": "Purple = BB band", "band": "lower", "price": 9.532},
      {"i": 95, "series": "Purple = BB band", "band": "lower", "price": 9.529},
      {"i": 96, "series": "Purple = BB band", "band": "lower", "price": 9.529},
      {"i": 97, "series": "Purple = BB band", "band": "lower", "price": 9.532},
      {"i": 98, "series": "Purple = BB band", "band": "lower", "price": 9.541},
      {"i": 99, "series": "Purple = BB band", "band": "lower", "price": 9.541}
    ]
  },
  "vconcat": [
    {
      "width": 898,
      "height": 695,
      "layer": [
        {
          "data": {"name": "lines"},
          "transform": [{"filter": "datum.series !== 'Purple = BB band'"}],
          "mark": {"type": "line", "strokeWidth": 2.2, "clip": true},
          "encoding": {
            "x": {
              "field": "i", "type": "quantitative",
              "scale": {"domain": [0, 104], "nice": false, "zero": false},
              "axis": {"values": [20, 40, 60, 80, 100]}
            },
            "y": {
              "field": "price", "type": "quantitative", "title": "Price",
              "scale": {"domain": [9.407, 10.3138], "nice": false, "zero": false},
              "axis": {"values": [9.6, 9.8, 10.0, 10.2], "format": ".1f", "titleX": 81, "titleY": 347}
            },
            "color": {
              "field": "series", "type": "nominal",
              "scale": {
                "domain": ["White = Fast tunnel", "Yellow = Main tunnel", "Blue = Slow tunnel", "Purple = BB band", "Orange = ATR(14)"],
                "range": ["#ffffff", "#ffd54f", "#42a5f5", "#7c4dff", "#ffa726"]
              },
              "legend": {
                "orient": "top-left",
                "offset": 6,
                "title": null,
                "fillColor": "rgba(10,12,17,0.88)",
                "strokeColor": "#30343f",
                "cornerRadius": 4,
                "padding": 4,
                "labelFontSize": 16.5,
                "labelLimit": 400,
                "labelOffset": 16,
                "symbolType": "M-1.5,0H1.5",
                "symbolSize": 576,
                "symbolStrokeWidth": 3.5,
                "symbolOffset": 7,
                "rowPadding": 2.9,
                "encode": {
                  "legend": {"update": {"strokeWidth": {"value": 1.5}}},
                  "labels": {"update": {"fill": {"signal": "datum.value === 'White = Fast tunnel' ? '#ffffff' : datum.value === 'Yellow = Main tunnel' ? '#ffd54f' : datum.value === 'Blue = Slow tunnel' ? '#42a5f5' : datum.value === 'Purple = BB band' ? '#7c4dff' : '#ffa726'"}}},
                  "symbols": {"update": {"strokeDash": {"signal": "datum.value === 'Purple = BB band' ? [11, 9] : [1, 0]"}}}
                }
              }
            },
            "detail": {"field": "band"}
          }
        },
        {
          "data": {"name": "lines"},
          "transform": [{"filter": "datum.series === 'Purple = BB band'"}],
          "mark": {"type": "line", "strokeWidth": 1.3, "strokeDash": [4, 2.5], "clip": true},
          "encoding": {
            "x": {"field": "i", "type": "quantitative"},
            "y": {"field": "price", "type": "quantitative", "title": "Price"},
            "color": {"field": "series", "type": "nominal"},
            "detail": {"field": "band"}
          }
        },
        {
          "data": {"name": "candles"},
          "mark": {"type": "rule", "strokeWidth": 1.3, "clip": true},
          "encoding": {
            "x": {"field": "i", "type": "quantitative"},
            "y": {"field": "low", "type": "quantitative", "title": "Price"},
            "y2": {"field": "high"},
            "color": {"condition": {"test": "datum.close >= datum.open", "value": "#26a69a"}, "value": "#ef5350"}
          }
        },
        {
          "data": {"name": "candles"},
          "mark": {"type": "bar", "size": 5, "clip": true},
          "encoding": {
            "x": {"field": "i", "type": "quantitative"},
            "y": {"field": "open", "type": "quantitative", "title": "Price"},
            "y2": {"field": "close"},
            "color": {"condition": {"test": "datum.close >= datum.open", "value": "#26a69a"}, "value": "#ef5350"}
          }
        }
      ]
    },
    {
      "width": 898,
      "height": 98,
      "layer": [
        {
          "data": {"name": "candles"},
          "mark": {"type": "bar", "size": 7, "stroke": "#2a72c0", "strokeWidth": 1, "clip": true},
          "encoding": {
            "x": {
              "field": "i", "type": "quantitative",
              "scale": {"domain": [0, 104], "nice": false, "zero": false},
              "axis": {"values": [20, 40, 60, 80, 100]}
            },
            "y": {
              "field": "volume", "type": "quantitative", "title": "Volume",
              "scale": {"domain": [20000, 1089000], "nice": false, "zero": false},
              "axis": {"values": [500000, 1000000], "labelExpr": "format(datum.value / 1000000, '.1f')", "titleX": 69, "titleY": 78}
            },
            "y2": {"datum": 0},
            "color": {"condition": {"test": "datum.close >= datum.open", "value": "#26a69a"}, "value": "#ef5350"}
          }
        },
        {
          "data": {"values": [{"label": "10⁶"}]},
          "mark": {"type": "text", "angle": 270, "align": "left", "baseline": "middle", "fontSize": 20, "color": "#868993"},
          "encoding": {
            "x": {"datum": 111.4, "type": "quantitative"},
            "y": {"datum": 1000000, "type": "quantitative"},
            "text": {"field": "label"}
          }
        }
      ]
    },
    {
      "width": 898,
      "height": 99,
      "data": {"name": "candles"},
      "mark": {"type": "line", "color": "#ffa726", "strokeWidth": 1.8, "clip": true},
      "encoding": {
        "x": {
          "field": "i", "type": "quantitative",
          "scale": {"domain": [0, 104], "nice": false, "zero": false},
          "axis": {"values": [20, 40, 60, 80, 100]}
        },
        "y": {
          "field": "atr", "type": "quantitative", "title": "ATR(14)",
          "scale": {"domain": [0.0249, 0.0855], "nice": false, "zero": false},
          "axis": {"values": [0.025, 0.05, 0.075], "format": ".3f", "titleX": 92, "titleY": 52}
        }
      }
    }
  ],
  "resolve": {"scale": {"color": "independent", "x": "independent", "y": "independent"}},
  "config": {
    "font": "DejaVu Sans",
    "view": {"stroke": "#363a45", "strokeWidth": 2.5, "fill": "#131722"},
    "axis": {
      "gridColor": "#252935",
      "gridWidth": 1,
      "domain": false,
      "labelFont": "DejaVu Sans",
      "titleFont": "DejaVu Sans"
    },
    "axisX": {
      "grid": true,
      "labels": false,
      "ticks": false,
      "title": null
    },
    "axisY": {
      "orient": "right",
      "grid": true,
      "ticks": true,
      "tickSize": 5,
      "tickColor": "#4a4e5a",
      "tickWidth": 1.5,
      "labelColor": "#868993",
      "labelFontSize": 20,
      "labelPadding": 9,
      "titleColor": "#7e828d",
      "titleFontSize": 24,
      "titleFontWeight": "bold",
      "titleAngle": 270,
      "titleAlign": "center",
      "titleBaseline": "middle"
    },
    "legend": {"labelFont": "DejaVu Sans"}
  }
}
